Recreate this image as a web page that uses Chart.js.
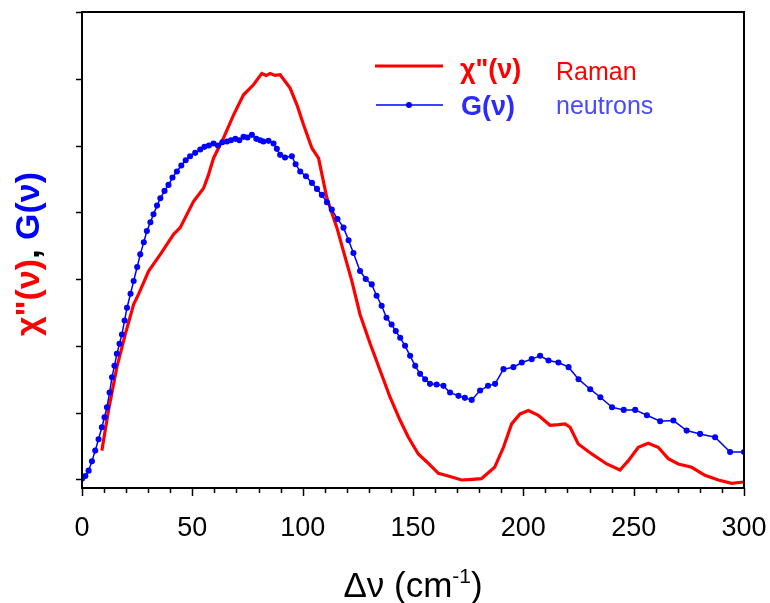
<!DOCTYPE html>
<html>
<head>
<meta charset="utf-8">
<script src="https://cdn.jsdelivr.net/npm/chart.js@4.4.0/dist/chart.umd.min.js"></script>
<style>
  body { margin: 0; background: #fff; }
  #wrap { width: 770px; height: 603px; }
</style>
</head>
<body>
<div id="wrap"><canvas id="chart" width="770" height="603"></canvas></div>
<script>
// Raman chi''(nu)
const ramanX = [9, 12, 15.8, 19.6, 23.4, 25.6, 30.2, 35.5, 41.5, 44.5, 50.5, 55.1, 57.3, 59.6, 64.1, 68.7, 73.2, 77.7,
  81.5, 83.5, 85.3, 87.5, 89.8, 94.3, 97.4, 100.4, 104.2, 107.2, 111, 115.5, 119.3, 122.3, 126, 130.6, 135.1, 139.6,
  144.2, 147.9, 152.4, 156.3, 161.5, 166, 172, 177, 181, 187, 191, 194.7, 198.5, 202.3, 206.8, 212.1, 216, 218.9,
  221.2, 224.9, 231, 237.8, 243.8, 247.6, 252.1, 256.6, 261.1, 265.7, 270.2, 276.3, 282.3, 288.4, 294.4, 300];
const ramanY = [0.43, 1.03, 1.68, 2.17, 2.62, 2.77, 3.12, 3.37, 3.67, 3.77, 4.16, 4.36, 4.56, 4.81, 5.11, 5.46, 5.76, 5.91,
  6.08, 6.05, 6.08, 6.05, 6.06, 5.86, 5.61, 5.31, 4.96, 4.81, 4.21, 3.77, 3.32, 2.97, 2.47, 2.03, 1.63, 1.23,
  0.88, 0.63, 0.38, 0.26, 0.09, 0.05, -0.01, 0.0, 0.01, 0.18, 0.48, 0.83, 0.98, 1.03, 0.96, 0.81, 0.82, 0.83,
  0.78, 0.53, 0.38, 0.23, 0.14, 0.28, 0.48, 0.54, 0.48, 0.31, 0.23, 0.18, 0.06, -0.01, -0.06, -0.04];

// neutron G(nu)
const neutronX = [0, 1.5, 3, 4.5, 6, 7.5, 9, 10.2, 11.3, 12.5, 13.6, 14.7, 15.8, 17, 18.1, 19.3, 20.4, 22, 23.4, 25,
  26.4, 28, 29.4, 31, 32.4, 34, 35.5, 37.4, 39.2, 41, 43, 45, 47, 49, 51.3, 53.6, 55.5, 57.5, 59.6, 61.6, 63.6,
  65.7, 67.5, 69.5, 71.3, 73.2, 75, 77, 79, 80.8, 82.2, 84.5, 86.8, 88.3, 89.8, 92, 95.1, 96.8, 98.9, 101.5,
  104.2, 106.5, 108.7, 111, 113.2, 115.8, 118.5, 120.8, 123, 126, 128.6, 131.3, 133.5, 135.8, 138, 140.3, 142.2,
  144.2, 146.4, 148.7, 151, 153.2, 155.5, 157.7, 160.7, 163.8, 166.8, 170.6, 173.5, 176.6, 180.4, 184, 187.2,
  191, 195.5, 199.3, 203.8, 207.6, 211.4, 215.9, 220.5, 225, 230.3, 234.9, 240.2, 245.5, 250.7, 256, 262, 268,
  274, 280.1, 286.9, 293.7, 300];
const neutronY = [0.01, 0.05, 0.13, 0.27, 0.43, 0.6, 0.78, 0.93, 1.08, 1.3, 1.53, 1.7, 1.88, 2.03, 2.17, 2.38, 2.57, 2.78, 2.97, 3.18,
  3.37, 3.55, 3.72, 3.85, 3.97, 4.1, 4.21, 4.32, 4.41, 4.52, 4.61, 4.7, 4.78, 4.84, 4.89, 4.94, 4.98, 5.0, 5.03, 5.0, 5.05,
  5.06, 5.08, 5.1, 5.08, 5.13, 5.12, 5.16, 5.1, 5.08, 5.06, 5.07, 5.03, 4.95, 4.86, 4.82, 4.84, 4.72, 4.61, 4.54,
  4.44, 4.35, 4.26, 4.15, 4.04, 3.9, 3.77, 3.58, 3.39, 3.12, 3.0, 2.92, 2.75, 2.6, 2.42, 2.32, 2.22,
  2.12, 2.0, 1.85, 1.7, 1.58, 1.5, 1.43, 1.42, 1.4, 1.3, 1.25, 1.22, 1.19, 1.33, 1.4, 1.43,
  1.65, 1.68, 1.75, 1.8, 1.85, 1.78, 1.75, 1.68, 1.5, 1.35, 1.23, 1.08, 1.04, 1.04, 0.96, 0.87, 0.88,
  0.73, 0.68, 0.63, 0.41, 0.41];

const xTicks = [0, 50, 100, 150, 200, 250, 300];
const yTicks = [0, 1, 2, 3, 4, 5, 6, 7];

const RED = '#ff0000';
const BLUE = '#0000ff';
const FONT = 'Arial, "Liberation Sans", sans-serif';

function pts(xs, ys) {
  return xs.map((x, i) => ({ x: x, y: ys[i] }));
}

// draws frame, ticks, axis titles and the legend
const decor = {
  id: 'decor',
  afterDraw(chart) {
    const ctx = chart.ctx;
    const a = chart.chartArea;
    const xs = chart.scales.x, ys = chart.scales.y;
    ctx.save();
    ctx.strokeStyle = '#000';
    ctx.lineWidth = 2;
    ctx.strokeRect(a.left, a.top, a.right - a.left, a.bottom - a.top);

    ctx.lineWidth = 1.5;
    ctx.beginPath();
    for (let v = 0; v <= 300; v += 10) {
      const px = Math.round(xs.getPixelForValue(v)) + 0.5;
      const len = v % 50 === 0 ? 8 : 5;
      ctx.moveTo(px, a.bottom);
      ctx.lineTo(px, a.bottom + len);
    }
    yTicks.forEach(v => {
      const py = Math.round(ys.getPixelForValue(v)) + 0.5;
      ctx.moveTo(a.left, py);
      ctx.lineTo(a.left - 6, py);
    });
    ctx.stroke();

    // x title with superscript
    ctx.fillStyle = '#000';
    ctx.textBaseline = 'alphabetic';
    ctx.textAlign = 'left';
    const big = '35px ' + FONT, small = '21px ' + FONT;
    ctx.font = big;
    const w1 = ctx.measureText('\u0394\u03bd (cm').width;
    const w3 = ctx.measureText(')').width;
    ctx.font = small;
    const w2 = ctx.measureText('-1').width;
    let tx = (a.left + a.right) / 2 - (w1 + w2 + w3) / 2;
    const ty = 597;
    ctx.font = big;
    ctx.fillText('\u0394\u03bd (cm', tx, ty);
    ctx.font = small;
    ctx.fillText('-1', tx + w1, ty - 14);
    ctx.font = big;
    ctx.fillText(')', tx + w1 + w2, ty);

    // y title, rotated, three colours
    ctx.save();
    ctx.translate(30, 254);
    ctx.rotate(-Math.PI / 2);
    ctx.font = 'bold 34px ' + FONT;
    ctx.textBaseline = 'middle';
    const parts = [['\u03c7"(\u03bd)', RED], [', ', '#000'], ['G(\u03bd)', BLUE]];
    let total = 0;
    parts.forEach(p => { total += ctx.measureText(p[0]).width; });
    let px = -total / 2;
    parts.forEach(p => {
      ctx.fillStyle = p[1];
      ctx.fillText(p[0], px, 0);
      px += ctx.measureText(p[0]).width;
    });
    ctx.restore();

    // legend
    ctx.lineWidth = 3;
    ctx.strokeStyle = RED;
    ctx.beginPath();
    ctx.moveTo(375, 66);
    ctx.lineTo(443, 66);
    ctx.stroke();
    ctx.lineWidth = 1.5;
    ctx.strokeStyle = BLUE;
    ctx.beginPath();
    ctx.moveTo(376, 105);
    ctx.lineTo(443, 105);
    ctx.stroke();
    ctx.fillStyle = BLUE;
    ctx.beginPath();
    ctx.arc(409, 105, 3, 0, Math.PI * 2);
    ctx.fill();

    ctx.textBaseline = 'middle';
    ctx.font = 'bold 27px ' + FONT;
    ctx.fillStyle = RED;
    ctx.fillText('\u03c7"(\u03bd)', 460, 71);
    ctx.fillStyle = '#2b2bff';
    ctx.fillText('G(\u03bd)', 461, 108);
    ctx.font = '25px ' + FONT;
    ctx.fillStyle = RED;
    ctx.fillText('Raman', 556, 73);
    ctx.fillStyle = '#4a4aff';
    ctx.fillText('neutrons', 556, 107);
    ctx.restore();
  }
};

new Chart(document.getElementById('chart'), {
  type: 'line',
  data: {
    datasets: [{
      label: 'G(\u03bd) neutrons',
      data: pts(neutronX, neutronY),
      borderColor: BLUE,
      backgroundColor: BLUE,
      borderWidth: 1.5,
      pointRadius: 2.3,
      pointHoverRadius: 2.3,
      pointStyle: 'circle'
    }, {
      label: '\u03c7"(\u03bd) Raman',
      data: pts(ramanX, ramanY),
      borderColor: RED,
      backgroundColor: RED,
      borderWidth: 3.2,
      pointRadius: 0
    }]
  },
  options: {
    responsive: false,
    animation: false,
    layout: { padding: { top: 12, right: 26, left: 0, bottom: 0 } },
    plugins: {
      legend: { display: false },
      tooltip: { enabled: false }
    },
    scales: {
      x: {
        type: 'linear',
        min: 0,
        max: 300,
        afterBuildTicks: s => { s.ticks = xTicks.map(v => ({ value: v })); },
        ticks: { color: '#000', font: { size: 27, family: FONT }, padding: 24, maxRotation: 0 },
        grid: { display: false, drawTicks: false },
        border: { display: false },
        afterFit: s => { s.height = 115; s.paddingLeft = 0; s.paddingRight = 0; }
      },
      y: {
        type: 'linear',
        min: -0.13,
        max: 7,
        ticks: { display: false },
        grid: { display: false, drawTicks: false },
        border: { display: false },
        afterFit: s => { s.width = 82; }
      }
    }
  },
  plugins: [decor]
});
</script>
</body>
</html>
